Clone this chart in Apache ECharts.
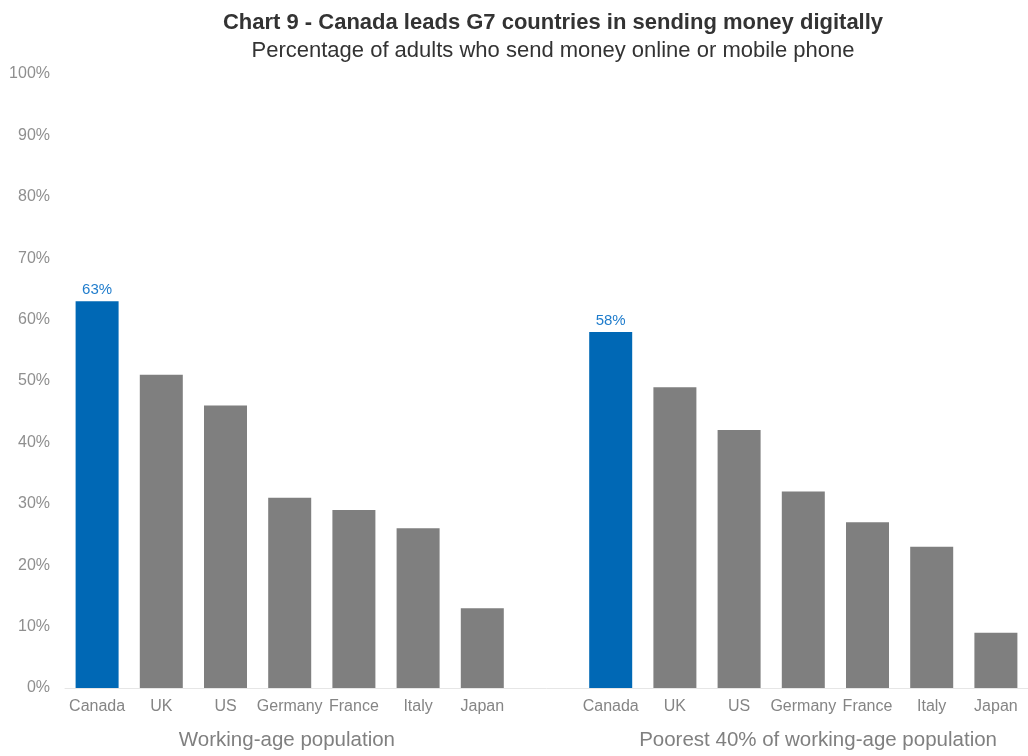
<!DOCTYPE html>
<html>
<head>
<meta charset="utf-8">
<script src="https://cdn.jsdelivr.net/npm/echarts@6/dist/echarts.min.js"></script>
<style>
  html, body { margin: 0; padding: 0; background: #fff; }
  #chart { width: 1028px; height: 756px; }
</style>
</head>
<body>
<div id="chart"></div>
<script>
// Countries shown in each group
const countries = ['Canada', 'UK', 'US', 'Germany', 'France', 'Italy', 'Japan'];
// Share of adults who send money online or by mobile phone (%)
const workingAge = [63, 51, 46, 31, 29, 26, 13];
const poorest40 = [58, 49, 42, 32, 27, 23, 9];
const groupLabels = ['Working-age population', 'Poorest 40% of working-age population'];
const yTicks = [0, 10, 20, 30, 40, 50, 60, 70, 80, 90, 100];

const BLUE = '#0068b5';
const GREY = '#7f7f7f';

// Two groups on one category axis, separated by an empty slot
const slots = countries.concat(['']).concat(countries);
const keys = slots.map((_, i) => 'c' + i);
const values = workingAge.concat([null]).concat(poorest40);

const data = values.map((v, i) => {
  if (v === null) return '-';
  const idx = i < countries.length ? i : i - countries.length - 1;
  const isCanada = idx === 0;
  return {
    value: v,
    itemStyle: { color: isCanada ? BLUE : GREY },
    label: { show: isCanada }
  };
});

const gridLeft = 65, gridTop = 74, gridWidth = 964, gridHeight = 614;
const slotW = gridWidth / slots.length;
const FONT = 'Liberation Sans, Arial, sans-serif';

const chart = echarts.init(document.getElementById('chart'), null, { renderer: 'canvas' });
chart.setOption({
  animation: false,
  textStyle: { fontFamily: FONT },
  title: {
    left: 548,
    top: 7,
    textAlign: 'center',
    text: 'Chart 9 - Canada leads G7 countries in sending money digitally',
    subtext: 'Percentage of adults who send money online or mobile phone',
    itemGap: 6,
    textStyle: { fontFamily: FONT, fontWeight: 'bold', fontSize: 22, color: '#333333' },
    subtextStyle: { fontFamily: FONT, fontSize: 22, color: '#333333' }
  },
  grid: { left: gridLeft, top: gridTop, width: gridWidth, height: gridHeight },
  xAxis: {
    type: 'category',
    data: keys,
    axisLine: { lineStyle: { color: '#e6e6e6', width: 1 } },
    axisTick: { show: false },
    axisLabel: {
      interval: 0,
      margin: 11,
      color: '#858585',
      fontSize: 16,
      formatter: (val, i) => slots[i]
    }
  },
  yAxis: {
    type: 'value',
    min: yTicks[0],
    max: yTicks[yTicks.length - 1],
    interval: 10,
    splitLine: { show: false },
    axisLine: { show: false },
    axisTick: { show: false },
    axisLabel: {
      margin: 15,
      color: '#8f8f8f',
      fontSize: 16,
      formatter: v => v + '%'
    }
  },
  series: [{
    type: 'bar',
    data: data,
    barWidth: 43,
    label: {
      position: 'top',
      distance: 4,
      color: '#1f7ccc',
      fontSize: 15,
      formatter: p => p.value + '%'
    }
  }],
  graphic: [
    {
      type: 'text',
      x: gridLeft + slotW * 3.5 - 3,
      y: 740,
      style: {
        text: groupLabels[0], fill: '#808080', fontSize: 20.5,
        fontFamily: FONT, textAlign: 'center', textVerticalAlign: 'middle'
      }
    },
    {
      type: 'text',
      x: gridLeft + slotW * 11.5 + 14,
      y: 740,
      style: {
        text: groupLabels[1], fill: '#808080', fontSize: 20.5,
        fontFamily: FONT, textAlign: 'center', textVerticalAlign: 'middle'
      }
    }
  ]
});
</script>
</body>
</html>
